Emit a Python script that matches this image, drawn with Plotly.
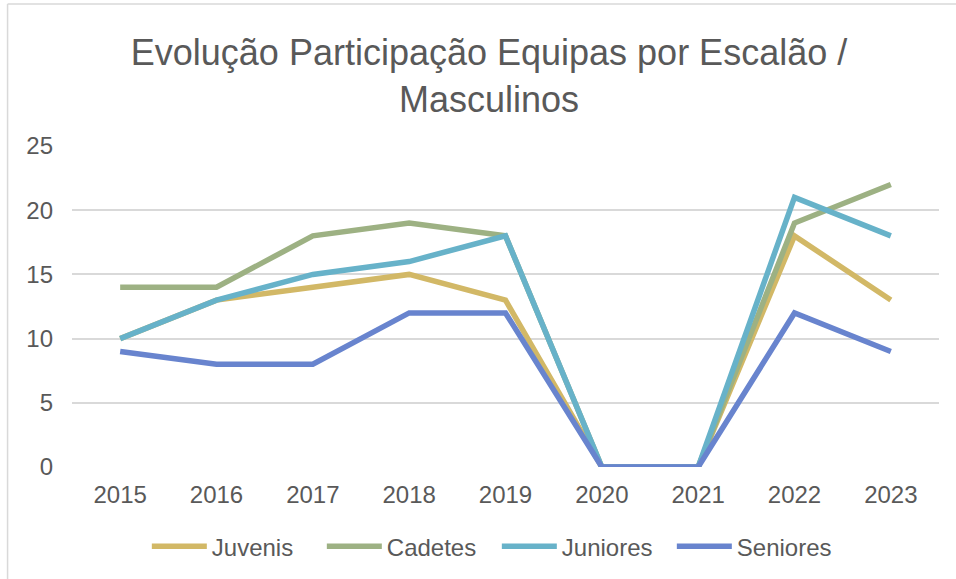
import plotly.graph_objects as go

years = ["2015", "2016", "2017", "2018", "2019", "2020", "2021", "2022", "2023"]
juvenis = [10, 13, 14, 15, 13, 0, 0, 18, 13]
cadetes = [14, 14, 18, 19, 18, 0, 0, 19, 22]
juniores = [10, 13, 15, 16, 18, 0, 0, 21, 18]
seniores = [9, 8, 8, 12, 12, 0, 0, 12, 9]

series = [
    ("Juvenis", juvenis, "#D2B866"),
    ("Cadetes", cadetes, "#9DB183"),
    ("Juniores", juniores, "#67B2C9"),
    ("Seniores", seniores, "#6884CE"),
]

FONT = "Liberation Sans, Arial, sans-serif"
GREY = "#595959"

fig = go.Figure()
for name, vals, col in series:
    fig.add_trace(go.Scatter(
        x=years, y=vals, name=name, mode="lines",
        line=dict(color=col, width=5.5, shape="linear"),
    ))

W, H = 956, 579
L, R, T, B = 71.5, 16.5, 146, 112
pw, ph = W - L - R, H - T - B

def px(x):
    return (x - L) / pw

def py(y):
    return (H - B - y) / ph

fig.update_layout(
    width=W, height=H,
    margin=dict(l=L, r=R, t=T, b=B, pad=0, autoexpand=False),
    paper_bgcolor="white", plot_bgcolor="white",
    font=dict(family=FONT, color=GREY, size=24),
    title=dict(
        text="Evolução Participação Equipas por Escalão /<br>Masculinos",
        x=0.5115, xanchor="center", xref="container",
        y=0.888, yanchor="top", yref="container",
        font=dict(family=FONT, size=36, color=GREY),
    ),
    xaxis=dict(
        type="category", showgrid=False, zeroline=False, showline=False,
        ticks="", tickfont=dict(size=24, color=GREY),
        range=[-0.5, 8.5], ticklabelstandoff=11,
    ),
    yaxis=dict(
        range=[0, 25], dtick=5, tick0=0, showgrid=True,
        gridcolor="#D9D9D9", gridwidth=1.5, zeroline=False, showline=False,
        ticks="", tickfont=dict(size=24, color=GREY), ticklabelstandoff=18,
    ),
    legend=dict(
        orientation="h", x=0.49, xanchor="center", y=py(546.7), yanchor="middle",
        font=dict(size=24, color=GREY), itemwidth=55,
        entrywidth=105, entrywidthmode="pixels",
    ),
    showlegend=True,
    shapes=[
        dict(type="line", xref="paper", yref="paper",
             x0=px(7), x1=px(7), y0=py(590), y1=py(4),
             line=dict(color="#D9D9D9", width=1.5)),
        dict(type="line", xref="paper", yref="paper",
             x0=px(7), x1=px(960), y0=py(4), y1=py(4),
             line=dict(color="#D9D9D9", width=1.5)),
    ],
)

fig.write_html("out.html", config={"displayModeBar": False},
               post_script="document.body.style.margin='0px';")
